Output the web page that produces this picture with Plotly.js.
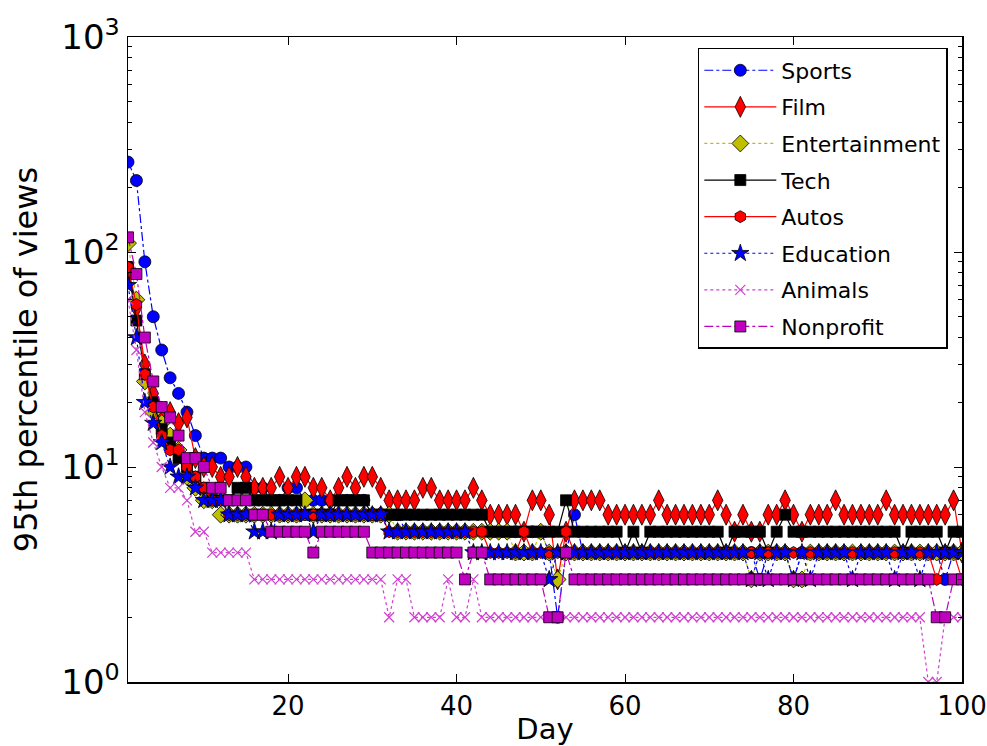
<!DOCTYPE html>
<html>
<head>
<meta charset="utf-8">
<script src="https://cdn.plot.ly/plotly-3.0.1.min.js"></script>
<style>html,body{margin:0;padding:0;background:#fff;}#chart{width:987px;height:746px;}</style>
</head>
<body>
<div id="chart"></div>
<script>
const days = Array.from({length: 100}, (_, i) => i + 1);

const sports = [262,215,90,50,35,26,22,18,14,11, 11,11,10,10,10,8,8,7,7,8, 8,7,7,7,7,7,7,7,7,6, 6,6,6,5,5,5,5,5,5,5, 5,5,5,5,5,5,5,5,5,5, 4,2,4,6,4,4,4,4,4,4, 4,4,4,4,4,4,4,4,4,4, 4,4,4,4,4,3,4,4,4,3, 4,4,4,4,4,4,4,4,4,4, 4,4,4,4,4,4,4,3,4,4];
const film = [80,55,30,22,18,18,16,17,11,10, 10,9,9,10,9,8,8,8,9,8, 9,9,8,8,7,8,9,8,9,9, 8,7,7,7,7,8,8,7,7,7, 7,8,7,6,6,6,6,5,7,7, 6,3,5,7,7,7,7,6,6,6, 6,6,6,7,6,6,6,6,6,6, 7,6,5,6,5,5,6,6,7,6, 5,6,6,6,7,6,6,6,6,6, 7,6,6,6,6,6,6,6,7,4];
const entertainment = [110,60,25,18,16,14,12,9,8,7, 7,6,6,6,6,6,6,6,6,6, 6,7,6,6,6,6,6,6,6,6, 6,6,5,5,5,5,5,5,5,5, 5,5,5,5,5,5,4,4,4,5, 4,3,4,4,4,4,4,4,4,4, 4,4,4,4,4,4,4,4,4,4, 4,4,4,4,3,4,4,4,4,3, 3,4,4,4,4,4,4,4,4,4, 4,4,4,4,4,4,4,4,4,4];
const tech = [85,48,27,20,15,13,11,10,9,8, 7,7,7,8,8,7,7,7,7,7, 7,6,6,6,6,7,7,7,7,6, 6,6,6,6,6,6,6,6,6,6, 6,6,6,5,5,5,5,5,5,5, 5,5,7,5,5,5,5,5,5,4, 5,4,5,5,5,5,5,5,5,5, 5,4,5,5,5,5,4,5,6,5, 5,5,5,5,5,5,5,5,5,5, 5,5,4,5,5,5,5,4,5,5];
const autos = [85,57,27,19,14,12,12,10,9,8, 7,7,6,6,6,6,6,6,6,6, 6,6,6,6,6,6,6,6,6,6, 6,5,5,5,5,5,5,5,5,5, 5,5,5,4,4,4,4,5,4,4, 4,4,5,4,4,4,4,4,4,4, 4,4,4,4,4,4,4,4,4,4, 4,4,4,4,4,4,4,4,4,4, 4,4,4,4,4,4,4,4,4,4, 4,4,4,4,4,4,3,4,4,3];
const education = [70,40,20,16,13,10,9,9,8,7, 7,7,6,6,6,5,5,5,6,6, 6,6,5,6,6,6,6,6,6,6, 6,5,5,5,5,5,5,5,5,5, 5,4,4,4,4,4,4,4,4,4, 3,4,4,4,4,4,4,4,4,4, 4,4,4,4,4,4,4,4,4,4, 4,4,4,4,3,4,3,4,4,3, 4,3,4,4,4,4,3,4,4,4, 4,3,4,4,3,4,4,4,4,4];
const animals = [60,35,18,13,10,8,8,7,5,5, 4,4,4,4,4,3,3,3,3,3, 3,3,3,3,3,3,3,3,3,3, 3,2,3,3,2,2,2,2,3,2, 2,3,2,2,2,2,2,2,2,2, 2,2,2,2,2,2,2,2,2,2, 2,2,2,2,2,2,2,2,2,2, 2,2,2,2,2,2,2,2,2,2, 2,2,2,2,2,2,2,2,2,2, 2,2,2,2,2,1,1,2,2,2];
const nonprofit = [117,79,40,25,19,17,14,11,11,10, 8,8,7,7,7,6,6,5,5,5, 5,5,4,5,5,5,5,5,5,4, 4,4,4,4,4,4,4,4,4,4, 3,4,4,3,3,3,3,3,3,3, 2,2,4,3,3,3,3,3,3,3, 3,3,3,3,3,3,3,3,3,3, 3,3,3,3,3,3,3,3,3,3, 3,3,3,3,3,3,3,3,3,3, 3,3,3,3,3,3,2,2,3,3];

const seriesNames = ['Sports','Film','Entertainment','Tech','Autos','Education','Animals','Nonprofit'];
const seriesData = [sports, film, entertainment, tech, autos, education, animals, nonprofit];
const lineColors = ['#0000ff','#ff0000','#bfbf00','#000000','#ff0000','#0000ff','#d040d0','#bf00bf'];
const dashes = ['dashdot','solid','dot','solid','solid','dot','dot','dashdot'];
const symbols = ['circle','diamond-tall','diamond','square','hexagon','star','x-thin','square'];
const sizes = [12,15,13,11,12,13,10,11];

const yTickVals = [1,10,100,1000];
const yTickText = ['10<sup>0</sup>','10<sup>1</sup>','10<sup>2</sup>','10<sup>3</sup>'];
const xTickVals = [20,40,60,80,100];

const traces = seriesNames.map((name, i) => {
  const isX = symbols[i] === 'x-thin';
  return {
    x: days, y: seriesData[i], name: name, legendgroup: name,
    type: 'scatter', mode: 'lines+markers',
    line: {color: lineColors[i], width: 1.2, dash: dashes[i]},
    marker: {
      symbol: symbols[i], size: sizes[i], color: lineColors[i],
      line: isX ? {color: lineColors[i], width: 1.2} : {color: '#000000', width: 0.8}
    },
    cliponaxis: true
  };
});

const layout = {
  width: 987, height: 746,
  margin: {l: 128, r: 25, t: 37, b: 64},
  paper_bgcolor: '#ffffff', plot_bgcolor: '#ffffff',
  font: {family: 'DejaVu Sans, sans-serif', color: '#000000'},
  showlegend: true,
  legend: {
    x: 0.983, y: 0.983, xanchor: 'right', yanchor: 'top',
    bgcolor: '#ffffff', bordercolor: '#000000', borderwidth: 1.5,
    font: {size: 22, family: 'DejaVu Sans, sans-serif'},
    tracegroupgap: 5, itemwidth: 72, traceorder: 'grouped'
  },
  xaxis: {
    range: [1, 100], tickvals: xTickVals, ticktext: xTickVals.map(String),
    ticks: 'inside', ticklen: 8, tickwidth: 1, tickcolor: '#000',
    showline: true, linecolor: '#000', linewidth: 1.5, mirror: 'ticks',
    showgrid: false, zeroline: false, ticklabeloverflow: 'allow',
    tickfont: {size: 26},
    title: {text: 'Day', font: {size: 29}, standoff: 2}
  },
  yaxis: {
    type: 'log', range: [0, 3], tickvals: yTickVals, ticktext: yTickText,
    ticks: 'inside', ticklen: 8, tickwidth: 1, tickcolor: '#000',
    minor: {ticks: 'inside', ticklen: 4, tickcolor: '#000', tickvals: [2,3,4,5,6,7,8,9,20,30,40,50,60,70,80,90,200,300,400,500,600,700,800,900], showgrid: false},
    showline: true, linecolor: '#000', linewidth: 1.5, mirror: 'ticks',
    showgrid: false, zeroline: false,
    tickfont: {size: 34},
    title: {text: '95th percentile of views', font: {size: 32}, standoff: 14}
  }
};

Plotly.newPlot('chart', traces, layout, {displayModeBar: false, staticPlot: true});
</script>
</body>
</html>
